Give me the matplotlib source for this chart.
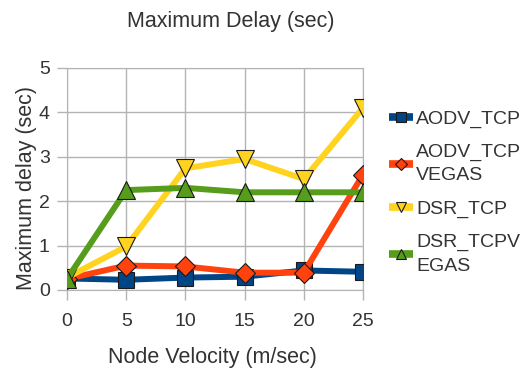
import matplotlib
matplotlib.use("Agg")
import matplotlib.pyplot as plt

velocity = [0, 5, 10, 15, 20, 25]
aodv_tcp = [0.26, 0.23, 0.28, 0.30, 0.44, 0.41]
aodv_vegas = [0.25, 0.55, 0.53, 0.39, 0.39, 2.60]
dsr_tcp = [0.28, 0.98, 2.74, 2.95, 2.50, 4.10]
dsr_vegas = [0.25, 2.25, 2.30, 2.20, 2.20, 2.20]
labels = ["AODV_TCP", "AODV_TCP\nVEGAS", "DSR_TCP", "DSR_TCPV\nEGAS"]
yticks = [0, 1, 2, 3, 4, 5]

plt.rcParams['font.family'] = ['Liberation Sans', 'DejaVu Sans']
TXT = '#333333'

W, H = 529, 372
fig = plt.figure(figsize=(W / 100, H / 100), dpi=100)
L, R, B, T = 67, 363, 290, 68
ax = fig.add_axes([L / W, 1 - B / H, (R - L) / W, (B - T) / H])

series = [
    (aodv_tcp, '#004586', 's', 12, 7),
    (aodv_vegas, '#ff420e', 'D', 10, 6),
    (dsr_tcp, '#ffd320', 'v', 13, 7),
    (dsr_vegas, '#579d1c', '^', 13, 7),
]
handles = []
for (vals, col, mk, ms, lms), lab in zip(series, labels):
    ax.plot(velocity, vals, color=col, lw=4.3, marker=mk, markersize=ms,
            markerfacecolor=col, markeredgecolor='#1a1a1a', markeredgewidth=0.8,
            zorder=3)
    h, = ax.plot([], [], color=col, lw=5.5, marker=mk, markersize=lms,
                 markerfacecolor=col, markeredgecolor='#1a1a1a',
                 markeredgewidth=0.8, solid_capstyle='butt')
    handles.append(h)

ax.set_xlim(velocity[0], velocity[-1])
ax.set_ylim(yticks[0], yticks[-1])
ax.set_xticks(velocity)
ax.set_yticks(yticks)
ax.grid(True, color='#b3b3b3', lw=1)
ax.set_axisbelow(True)
for s in ax.spines.values():
    s.set_color('#b3b3b3')
ax.tick_params(colors='#b3b3b3', labelcolor=TXT, labelsize=14, length=7.5,
               width=1, direction='out')
ax.tick_params(axis='x', pad=9)
ax.tick_params(axis='y', pad=5)

fig.text(231 / W, 1 - 21 / H, "Maximum Delay (sec)", fontsize=15.5, color=TXT,
         ha='center', va='center')
ax.set_xlabel("Node Velocity (m/sec)", fontsize=15.5, color=TXT, va='center')
ax.xaxis.set_label_coords((212 - L) / (R - L), (B - 357) / (B - T))
ax.set_ylabel("Maximum delay (sec)", fontsize=15.5, color=TXT, va='center')
ax.yaxis.set_label_coords((27 - L) / (R - L), (B - 188) / (B - T))

leg = fig.legend(handles, labels, loc='upper left',
                 bbox_to_anchor=(389 / W, 1 - 110 / H), frameon=False,
                 fontsize=14, handlelength=1.25, handletextpad=0.15,
                 labelspacing=0.82, borderaxespad=0, borderpad=0,
                 numpoints=1)
for t in leg.get_texts():
    t.set_color(TXT)
    t.set_linespacing(1.5)

fig.savefig("out.png", dpi=100)
